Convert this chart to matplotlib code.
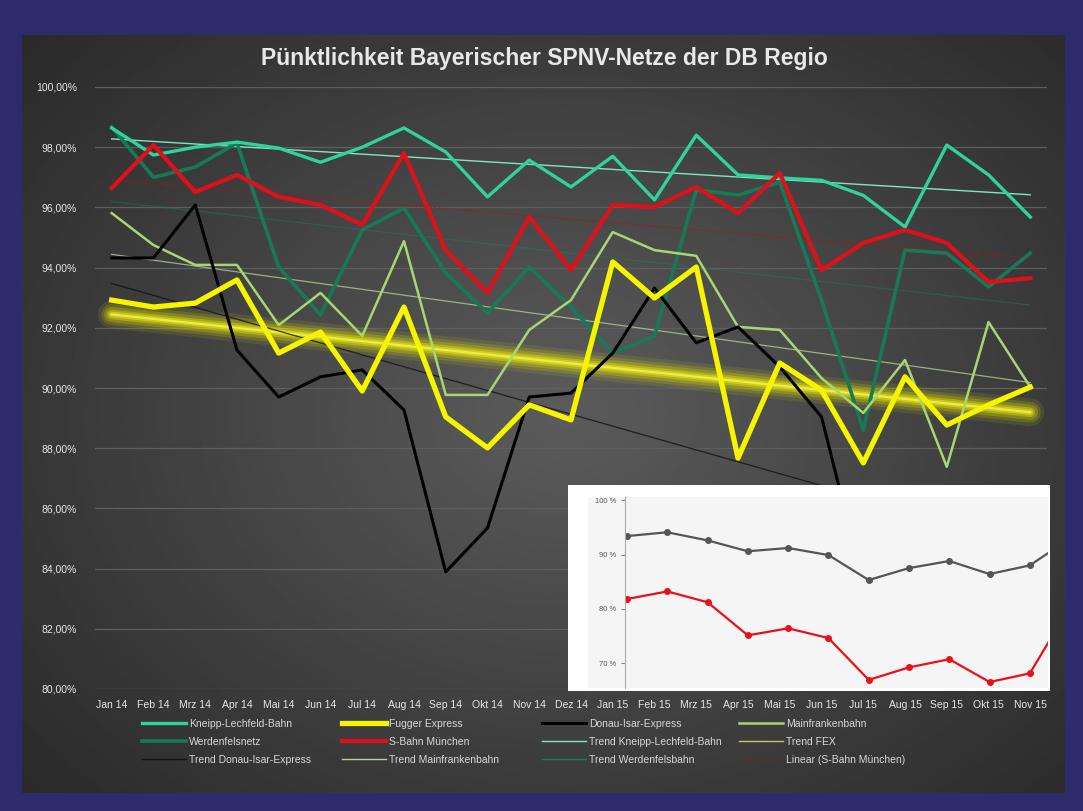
import numpy as np
import matplotlib.pyplot as plt
from matplotlib.patches import Rectangle
from matplotlib.lines import Line2D

plt.rcParams['font.family'] = ['Liberation Sans', 'DejaVu Sans']

# Monate der Auswertung
monate = ['Jan 14', 'Feb 14', 'Mrz 14', 'Apr 14', 'Mai 14', 'Jun 14', 'Jul 14', 'Aug 14',
          'Sep 14', 'Okt 14', 'Nov 14', 'Dez 14', 'Jan 15', 'Feb 15', 'Mrz 15', 'Apr 15',
          'Mai 15', 'Jun 15', 'Jul 15', 'Aug 15', 'Sep 15', 'Okt 15', 'Nov 15']

# Pünktlichkeit in Prozent
kneipp = [98.64, 97.74, 98.00, 98.17, 97.97, 97.50, 98.00, 98.64, 97.84, 96.35, 97.57, 96.68,
          97.70, 96.25, 98.40, 97.08, 96.98, 96.90, 96.40, 95.35, 98.07, 97.08, 95.68]
fugger = [92.92, 92.69, 92.82, 93.59, 91.16, 91.86, 89.90, 92.69, 89.04, 88.01, 89.44, 88.94,
          94.19, 92.99, 94.02, 87.67, 90.83, 89.93, 87.51, 90.37, 88.77, 89.44, 90.03]
donau_isar = [94.32, 94.32, 96.08, 91.26, 89.70, 90.37, 90.60, 89.27, 83.89, 85.35, 89.70, 89.83,
              91.16, 93.32, 91.50, 92.03, 90.70, 89.04, 83.50, 82.50, 84.00, 83.00, 84.50]
mainfranken = [95.81, 94.75, 94.09, 94.09, 92.09, 93.16, 91.73, 94.88, 89.77, 89.77, 91.93, 92.92,
               95.18, 94.58, 94.39, 92.03, 91.93, 90.33, 89.17, 90.93, 87.38, 92.19, 90.03]
werdenfels = [98.67, 97.00, 97.34, 98.14, 94.02, 92.43, 95.25, 95.98, 93.82, 92.49, 94.02, 92.69,
              91.16, 91.73, 96.58, 96.41, 96.84, 92.92, 88.60, 94.58, 94.48, 93.36, 94.48]
sbahn = [96.64, 98.07, 96.51, 97.08, 96.35, 96.08, 95.42, 97.80, 94.58, 93.16, 95.68, 93.92,
         96.08, 96.01, 96.68, 95.81, 97.14, 93.92, 94.82, 95.25, 94.82, 93.52, 93.65]

# eingefügtes Bild unten rechts
inset_grau = [93.4, 94.1, 92.6, 90.6, 91.2, 89.9, 85.3, 87.5, 88.8, 86.4, 88.0, 93.0]
inset_rot = [81.8, 83.2, 81.2, 75.1, 76.4, 74.6, 66.9, 69.2, 70.7, 66.5, 68.1, 80.5]
inset_ticks = [70, 80, 90, 100]

W, H = 1083, 811


def fig_box(x0, y0, x1, y1):
    # Pixelkoordinaten (oben links) -> Figure-Koordinaten
    return [x0 / W, 1 - y1 / H, (x1 - x0) / W, (y1 - y0) / H]


fig = plt.figure(figsize=(10.83, 8.11), dpi=100)
fig.patch.set_facecolor('#2e2b6c')

# Hintergrund mit Verlauf
bg = fig.add_axes(fig_box(22, 35, 1065, 793))
yy, xx = np.mgrid[0:1:300j, 0:1:400j]
r = np.sqrt(((xx - 0.52) / 0.75) ** 2 + ((yy - 0.5) / 0.8) ** 2)
grau = np.clip(0.36 - 0.21 * r, 0.15, 0.4)
bg.imshow(grau, cmap='gray', vmin=0, vmax=1, aspect='auto', extent=[0, 1, 0, 1])
bg.axis('off')

ax = fig.add_axes(fig_box(95, 87, 1047, 689))
ax.set_facecolor('none')
x = np.arange(len(monate))

# Trendlinien
def trend(werte):
    return np.polyval(np.polyfit(x, werte, 1), x)

t_fex = trend(fugger)
for lw, a in [(20, 0.10), (15, 0.15), (11, 0.22), (7, 0.35), (4, 0.5)]:
    ax.plot(x, t_fex, color='#f0f000', lw=lw, alpha=a, solid_capstyle='round', zorder=2)
ax.plot(x, t_fex, color='#f4f070', lw=1.5, alpha=0.8, zorder=2)
ax.plot(x, trend(kneipp), color='#7fe6c3', lw=1.0, zorder=2)
ax.plot(x, trend(donau_isar), color='#111111', lw=0.9, alpha=0.8, zorder=2)
ax.plot(x, trend(mainfranken), color='#b8d49a', lw=0.9, alpha=0.75, zorder=2)
ax.plot(x, trend(werdenfels), color='#1a7f5e', lw=0.9, alpha=0.45, zorder=2)
ax.plot(x, trend(sbahn), color='#b01018', lw=1.0, ls=':', zorder=2)

# Datenreihen
ax.plot(x, werdenfels, color='#167a58', lw=2.6, zorder=3)
ax.plot(x, kneipp, color='#2fd39c', lw=2.4, zorder=4)
ax.plot(x, mainfranken, color='#a8d672', lw=1.8, zorder=4)
ax.plot(x, donau_isar, color='#000000', lw=2.2, zorder=5)
ax.plot(x, sbahn, color='#e0101a', lw=3.0, zorder=6)
ax.plot(x, fugger, color='#f5f500', lw=3.8, zorder=7)

ax.set_xlim(-0.4, 22.4)
ax.set_ylim(80, 100)
ax.set_yticks(np.arange(80, 101, 2))
ax.set_yticklabels([f'{v:.2f}%'.replace('.', ',') for v in np.arange(80, 101, 2)])
ax.set_xticks(x)
ax.set_xticklabels(monate)
ax.tick_params(axis='both', length=0, colors='#e6e6e6', labelsize=7.5)
ax.tick_params(axis='y', pad=13)
ax.tick_params(axis='x', pad=8)
ax.grid(axis='y', color='#5e5e5e', lw=0.9)
for s in ax.spines.values():
    s.set_visible(False)

fig.text(0.503, 0.928, 'Pünktlichkeit Bayerischer SPNV-Netze der DB Regio', ha='center', va='center',
         color='#e8e8e8', fontsize=16.5, fontweight='bold')

# Legende (spaltenweise)
spalten = [
    [('Kneipp-Lechfeld-Bahn', dict(color='#2fd39c', lw=2.4)),
     ('Werdenfelsnetz', dict(color='#167a58', lw=2.6)),
     ('Trend Donau-Isar-Express', dict(color='#111111', lw=1.0))],
    [('Fugger Express', dict(color='#f5f500', lw=3.8)),
     ('S-Bahn München', dict(color='#e0101a', lw=3.0)),
     ('Trend Mainfrankenbahn', dict(color='#b8d49a', lw=1.0))],
    [('Donau-Isar-Express', dict(color='#000000', lw=2.2)),
     ('Trend Kneipp-Lechfeld-Bahn', dict(color='#7fe6c3', lw=1.0)),
     ('Trend Werdenfelsbahn', dict(color='#1a7f5e', lw=1.0))],
    [('Mainfrankenbahn', dict(color='#a8d672', lw=1.8)),
     ('Trend FEX', dict(color='#c8c860', lw=1.0)),
     ('Linear (S-Bahn München)', dict(color='#b01018', lw=1.0, ls=':'))],
]
spalten_x = [142, 342, 542, 739]
for xs, eintraege in zip(spalten_x, spalten):
    handles = [Line2D([], [], **st) for _, st in eintraege]
    labels = [t for t, _ in eintraege]
    leg = fig.legend(handles, labels, loc='upper left', bbox_to_anchor=(xs / W, 1 - 719 / H),
                     frameon=False, fontsize=7.5, labelcolor='#d8d8d8', handlelength=4.2,
                     handletextpad=0.3, labelspacing=0.75, borderaxespad=0, borderpad=0)

# eingefügtes Diagramm unten rechts
fig.add_artist(Rectangle((568 / W, 1 - 691 / H), 482 / W, 206 / H, transform=fig.transFigure,
                         facecolor='white', edgecolor='none', zorder=10))
fig.add_artist(Rectangle((588 / W, 1 - 688 / H), 460 / W, 191 / H, transform=fig.transFigure,
                         facecolor='#f5f5f5', edgecolor='none', zorder=10))
ix = fig.add_axes(fig_box(625, 497, 1048, 688), zorder=11)
ix.set_facecolor('none')
xi = np.arange(len(inset_grau))
ix.plot(xi, inset_grau, color='#555555', lw=1.6, marker='o', ms=4)
ix.plot(xi, inset_rot, color='#e8101a', lw=1.6, marker='o', ms=4)
ix.set_xlim(-0.05, 10.45)
ix.set_ylim(65.4, 100.6)
ix.set_yticks(inset_ticks)
ix.set_yticklabels([f'{v} %' for v in inset_ticks])
ix.set_xticks([])
ix.tick_params(axis='y', length=3, colors='#888888', labelsize=5.5, labelcolor='#555555')
for n in ['top', 'right', 'bottom']:
    ix.spines[n].set_visible(False)
ix.spines['left'].set_color('#aaaaaa')

fig.savefig('out.png', dpi=100, facecolor=fig.get_facecolor())
